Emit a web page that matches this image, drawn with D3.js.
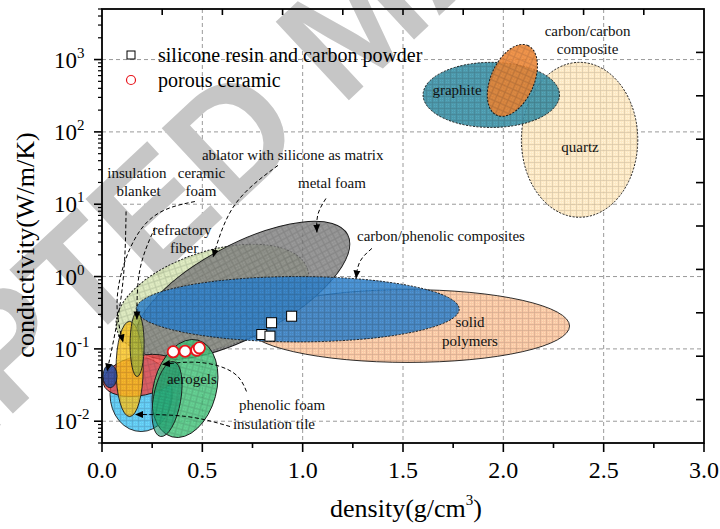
<!DOCTYPE html>
<html><head><meta charset="utf-8">
<script src="https://cdn.jsdelivr.net/npm/d3@7"></script>
<style>body{margin:0;background:#fff}svg{display:block}</style>
</head><body><svg id="c" width="720" height="529"></svg>
<script>
// ---------- data ----------
const densityTicks = [0, 0.5, 1, 1.5, 2, 2.5, 3];
const densityTickLabels = ["0.0", "0.5", "1.0", "1.5", "2.0", "2.5", "3.0"];
const condTickExps = [-2, -1, 0, 1, 2, 3];

// material regions (drawn bottom to top)
const regionNames = ["solid polymers", "ablator with silicone as matrix", "metal foam",
  "carbon/phenolic composites", "insulation tile", "phenolic foam", "aerogels A", "aerogels B",
  "ceramic foam", "refractory fiber", "insulation blanket", "quartz", "graphite", "carbon/carbon composite"];
const regionDensity = [[0.72, 2.33], [0.07, 1.03], [0.165, 1.235], [0.17, 1.78], [0.04, 0.35],
  [0.005, 0.39], [0.249, 0.578], [0.249, 0.399], [0.07, 0.205], [0.14, 0.21], [0.005, 0.075],
  [2.09, 2.67], [1.60, 2.28], [1.92, 2.17]];
const regionConductivity = [[0.065, 0.66], [0.081, 2.8], [0.071, 5.8], [0.125, 1.0], [0.0072, 0.076],
  [0.022, 0.084], [0.00595, 0.135], [0.00614, 0.067], [0.0116, 0.24], [0.0415, 0.32], [0.029, 0.061],
  [6.6, 915], [115, 915], [164, 1620]];
const regionTilt = [0, -18, -28, 0, 0, -12, -75, -80, 0, 0, 0, 0, 0, -66];

const siliconeDensity = [0.796, 0.837, 0.845, 0.945];
const siliconeConductivity = [0.158, 0.150, 0.230, 0.283];
const ceramicDensity = [0.355, 0.414, 0.472, 0.485];
const ceramicConductivity = [0.0912, 0.0929, 0.096, 0.1035];

// annotation labels: text, density, conductivity (baseline), anchor
const labelTexts = ["insulation", "blanket", "ceramic", "foam", "refractory", "fiber",
  "ablator with silicone as matrix", "metal foam", "carbon/phenolic composites", "aerogels",
  "phenolic foam", "insulation tile", "solid", "polymers", "graphite", "quartz", "carbon/carbon", "composite"];
const labelDensity = [0.174, 0.182, 0.496, 0.493, 0.399, 0.409, 0.498, 1.146, 1.271, 0.448,
  0.897, 0.857, 1.834, 1.834, 1.769, 2.382, 2.42, 2.42];
const labelConductivity = [22.7, 12.8, 22.7, 12.8, 3.70, 2.15, 40.3, 16.5, 3.06, 0.0322,
  0.01452, 0.00792, 0.1977, 0.108, 320, 52.1, 2094, 1180];
const labelAnchor = ["middle", "middle", "middle", "middle", "middle", "middle", "start", "middle",
  "start", "middle", "middle", "middle", "middle", "middle", "middle", "middle", "middle", "middle"];

// annotation arrows as [density, conductivity] paths
const arrowPaths = [
  [[0.12, 7.95], [0.10, 0.66], [0.025, 0.0487]],
  [[0.463, 10.9], [0.214, 5.26], [0.08, 0.66], [0.105, 0.1226]],
  [[0.264, 4.78], [0.189, 1.25], [0.174, 0.255]],
  [[0.877, 34.4], [0.663, 9.93], [0.553, 1.84]],
  [[1.116, 12.0], [1.076, 7.23], [1.071, 4.07]],
  [[1.345, 2.45], [1.286, 1.62], [1.266, 0.941]],
  [[0.72, 0.0258], [0.653, 0.0472], [0.488, 0.0649], [0.299, 0.0608]],
  [[0.638, 0.00845], [0.4235, 0.0116], [0.1644, 0.01238]]
];

// ---------- styles ----------
const regionColors = ["#f8c29c", "#cfdfae", "#7b7b7b", "#2a7bc4", "#52c2f0", "#ee4545", "#45bd78",
  "#15966c", "#f3bb1c", "#98a83c", "#2a4c9c", "#fde7bf", "#3a8da2", "#e67f30"];
const regionDotted = [false, true, false, true, false, false, false, false, false, false, false, true, true, true];
const regionOpacity = [0.9, 0.85, 0.82, 0.85, 0.9, 0.82, 0.85, 0.6, 0.82, 0.78, 0.9, 0.9, 0.9, 0.88];

const serif = "'Liberation Serif','Times New Roman',serif";
const svg = d3.select("#c");
const L = 102, R = 704, T = 9, B = 443;
const x = d3.scaleLinear().domain([0, 3]).range([L, R]);
const y = d3.scaleLog().domain([0.005, 5000]).range([B, T]);

const defs = svg.append("defs");
regionColors.forEach((c, i) => {
  const p = defs.append("pattern").attr("id", "pat" + i).attr("patternUnits", "userSpaceOnUse")
    .attr("width", 6).attr("height", 6);
  p.append("rect").attr("width", 6).attr("height", 6).attr("fill", c);
  p.append("path").attr("d", "M0,0.5H6M0.5,0V6").attr("stroke", d3.color(c).darker(0.9))
    .attr("stroke-width", 0.7).attr("opacity", 0.6);
  p.append("path").attr("d", "M2,2h1v1h-1zM4,4h1v1h-1zM4,2h1v1h-1zM2,4h1v1h-1z")
    .attr("fill", d3.color(c).brighter(0.6)).attr("opacity", 0.5);
});
defs.append("marker").attr("id", "arr").attr("markerUnits", "userSpaceOnUse")
  .attr("markerWidth", 9).attr("markerHeight", 8).attr("refX", 8).attr("refY", 4)
  .attr("orient", "auto").append("path").attr("d", "M0,0.5L8,4L0,7.5Z").attr("fill", "#000");
defs.append("clipPath").attr("id", "clip").append("rect")
  .attr("x", L).attr("y", T).attr("width", R - L).attr("height", B - T);

// grid
const grid = svg.append("g").attr("stroke", "#9a9a9a").attr("stroke-width", 1).attr("stroke-dasharray", "4,3");
condTickExps.forEach(e => grid.append("line").attr("x1", L).attr("x2", R).attr("y1", y(Math.pow(10, e))).attr("y2", y(Math.pow(10, e))));
densityTicks.slice(1, -1).forEach(d => grid.append("line").attr("y1", T).attr("y2", B).attr("x1", x(d)).attr("x2", x(d)));

// watermark
svg.append("text").text("ACCEPTED MANUSCRIPT")
  .attr("transform", "translate(-318,722) rotate(-43)")
  .attr("font-family", "'Liberation Sans',Arial,sans-serif").attr("font-weight", "bold")
  .attr("font-size", 156).attr("fill", "#c6c6c6");

// regions
const plot = svg.append("g").attr("clip-path", "url(#clip)");
regionNames.forEach((n, i) => {
  const x0 = x(regionDensity[i][0]), x1 = x(regionDensity[i][1]);
  const y0 = y(regionConductivity[i][1]), y1 = y(regionConductivity[i][0]);
  const cx = (x0 + x1) / 2, cy = (y0 + y1) / 2, W = (x1 - x0) / 2, H = (y1 - y0) / 2;
  const th = regionTilt[i] * Math.PI / 180;
  let a = W, b = H;
  if (regionTilt[i] !== 0) {
    const c2 = Math.cos(th) ** 2, s2 = Math.sin(th) ** 2;
    a = Math.sqrt(Math.max(1, (W * W * c2 - H * H * s2) / (c2 - s2)));
    b = Math.sqrt(Math.max(1, (H * H * c2 - W * W * s2) / (c2 - s2)));
  }
  plot.append("ellipse").attr("cx", cx).attr("cy", cy).attr("rx", a).attr("ry", b)
    .attr("transform", `rotate(${regionTilt[i]},${cx},${cy})`)
    .attr("fill", `url(#pat${i})`).attr("fill-opacity", regionOpacity[i])
    .attr("stroke", "#1a1a1a").attr("stroke-width", regionDotted[i] ? 1 : 0.9)
    .attr("stroke-dasharray", regionDotted[i] ? "2,1.5" : null);
});

// arrows
const line = d3.line().x(d => x(d[0])).y(d => y(d[1])).curve(d3.curveNatural);
arrowPaths.forEach(p => svg.append("path").attr("d", line(p)).attr("fill", "none")
  .attr("stroke", "#000").attr("stroke-width", 1).attr("stroke-dasharray", "4,2.5")
  .attr("marker-end", "url(#arr)"));

// labels
labelTexts.forEach((t, i) => svg.append("text").text(t).attr("x", x(labelDensity[i])).attr("y", y(labelConductivity[i]))
  .attr("text-anchor", labelAnchor[i]).attr("font-family", serif).attr("font-size", 15).attr("fill", "#111"));

// markers
siliconeDensity.forEach((d, i) => svg.append("rect").attr("x", x(d) - 5).attr("y", y(siliconeConductivity[i]) - 5)
  .attr("width", 10).attr("height", 10).attr("fill", "#fff").attr("stroke", "#000").attr("stroke-width", 1));
ceramicDensity.forEach((d, i) => svg.append("circle").attr("cx", x(d)).attr("cy", y(ceramicConductivity[i]))
  .attr("r", 5.6).attr("fill", "#fff").attr("stroke", "#e8141b").attr("stroke-width", 1.8));

// axes frame
const ax = svg.append("g");
ax.append("rect").attr("x", L).attr("y", T).attr("width", R - L).attr("height", B - T)
  .attr("fill", "none").attr("stroke", "#000").attr("stroke-width", 1.8);
// bottom ticks
d3.range(0, 3.001, 0.25).forEach(v => {
  const major = Math.abs(v * 2 - Math.round(v * 2)) < 1e-6;
  ax.append("line").attr("x1", x(v)).attr("x2", x(v)).attr("y1", B).attr("y2", B + (major ? 9 : 5))
    .attr("stroke", "#000").attr("stroke-width", 1.6);
});
densityTicks.forEach((v, i) => ax.append("text").text(densityTickLabels[i]).attr("x", x(v)).attr("y", 478)
  .attr("text-anchor", "middle").attr("font-family", serif).attr("font-size", 24));
// left ticks
y.ticks().forEach(v => {
  const e = Math.log10(v);
  const major = Math.abs(e - Math.round(e)) < 1e-6;
  ax.append("line").attr("y1", y(v)).attr("y2", y(v)).attr("x1", L).attr("x2", L - (major ? 8 : 4))
    .attr("stroke", "#000").attr("stroke-width", major ? 1.6 : 1.2);
});
condTickExps.forEach(e => {
  const t = ax.append("text").attr("x", 54).attr("y", y(Math.pow(10, e)) + 8)
    .attr("font-family", serif).attr("font-size", 23);
  t.append("tspan").text("10");
  t.append("tspan").text(e < 0 ? "-" + (-e) : String(e)).attr("font-size", 15).attr("dy", -10);
});
// top & right mirror ticks (inward)
const topS = d3.scaleLinear().domain([0, 10]).range([L, R]);
d3.range(1, 10).forEach(k => ax.append("line").attr("x1", topS(k)).attr("x2", topS(k)).attr("y1", T).attr("y2", T + 6)
  .attr("stroke", "#000").attr("stroke-width", 1.6));
const rightS = d3.scaleLinear().domain([0, 10]).range([B, T]);
d3.range(1, 10).forEach(k => ax.append("line").attr("y1", rightS(k)).attr("y2", rightS(k)).attr("x1", R).attr("x2", R - 8)
  .attr("stroke", "#000").attr("stroke-width", 1.6));

// axis titles
const xt = svg.append("text").attr("x", 406).attr("y", 517).attr("text-anchor", "middle")
  .attr("font-family", serif).attr("font-size", 26);
xt.append("tspan").text("density(g/cm");
xt.append("tspan").text("3").attr("font-size", 15).attr("dy", -12);
xt.append("tspan").text(")").attr("dy", 12);
svg.append("text").text("conductivity(W/m/K)").attr("transform", "translate(34,245) rotate(-90)")
  .attr("text-anchor", "middle").attr("font-family", serif).attr("font-size", 26);

// legend
svg.append("rect").attr("x", 127).attr("y", 51).attr("width", 8).attr("height", 8)
  .attr("fill", "#fff").attr("stroke", "#000").attr("stroke-width", 1);
svg.append("text").text("silicone resin and carbon powder").attr("x", 158).attr("y", 62)
  .attr("font-family", serif).attr("font-size", 20);
svg.append("circle").attr("cx", 131).attr("cy", 80).attr("r", 4.5).attr("fill", "#fff")
  .attr("stroke", "#e8141b").attr("stroke-width", 1.2);
svg.append("text").text("porous ceramic").attr("x", 158).attr("y", 87)
  .attr("font-family", serif).attr("font-size", 20);
</script></body></html>
